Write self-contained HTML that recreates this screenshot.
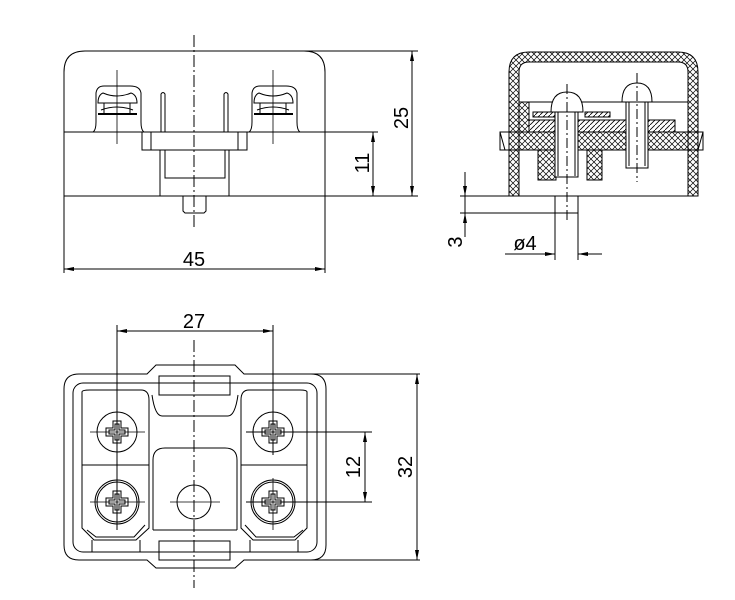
<!DOCTYPE html>
<html><head><style>html,body{margin:0;padding:0;background:#fff}svg{display:block}</style></head><body>
<svg width="735" height="600" viewBox="0 0 735 600" xmlns="http://www.w3.org/2000/svg" font-family="Liberation Sans, sans-serif" fill="none" stroke="#000" stroke-width="1">
<defs>
<pattern id="x" width="6" height="6" patternUnits="userSpaceOnUse"><path d="M0 0L6 6M6 0L0 6" stroke="#000" stroke-width="0.7"/></pattern>
<pattern id="h" width="5" height="5" patternUnits="userSpaceOnUse"><path d="M0 5L5 0" stroke="#000" stroke-width="0.8"/></pattern>
<marker id="a" viewBox="0 0 10 4" refX="10" refY="2" markerWidth="10" markerHeight="4" orient="auto-start-reverse" markerUnits="userSpaceOnUse"><path d="M0 0L10 2L0 4z" fill="#000" stroke="none"/></marker>
<g id="ph"><circle r="20" fill="#fff"/><path d="M-4-11H4V-4H11V4H4V11H-4V4H-11V-4H-4Z"/><path d="M-2-8H2V-2H8V2H2V8H-2V2H-8V-2H-2Z"/></g>
<g id="sc">
<path d="M93 132Q96 130 96 122V93Q97 86 104 86H130Q140 86 141 93V122Q141 130 144 132"/>
<path d="M98 103Q98 95 103 93Q117 99 131 93Q137 95 137 103Z"/>
<line x1="98" y1="114" x2="137" y2="114" stroke-width="2"/>
<path d="M101 110Q117 104 133 110" /><line x1="104" y1="103" x2="104" y2="114"/><line x1="130" y1="103" x2="130" y2="114"/>
</g>
</defs>
<!-- TOP VIEW -->
<path d="M64 196V72Q64 51 85 51H304Q325 51 325 72V196"/>
<line x1="64" y1="132" x2="378" y2="132"/><line x1="64" y1="196" x2="418" y2="196"/>
<line x1="304" y1="51" x2="418" y2="51"/>
<line x1="412" y1="51" x2="412" y2="196" marker-start="url(#a)" marker-end="url(#a)"/>
<line x1="373" y1="132" x2="373" y2="196" marker-start="url(#a)" marker-end="url(#a)"/>
<line x1="64" y1="196" x2="64" y2="273"/><line x1="325" y1="196" x2="325" y2="273"/>
<line x1="64" y1="269" x2="325" y2="269" marker-start="url(#a)" marker-end="url(#a)"/>
<text x="194" y="266" font-size="20" fill="#000" stroke="none" text-anchor="middle">45</text>
<text transform="translate(408 118) rotate(-90)" font-size="20" fill="#000" stroke="none" text-anchor="middle">25</text>
<text transform="translate(369 163) rotate(-90)" font-size="20" fill="#000" stroke="none" text-anchor="middle">11</text>
<rect x="142" y="132" width="105" height="18"/><line x1="151" y1="132" x2="151" y2="150"/><line x1="238" y1="132" x2="238" y2="150"/>
<rect x="165" y="150" width="60" height="28"/><line x1="160" y1="150" x2="160" y2="196"/><line x1="229" y1="150" x2="229" y2="196"/>
<path d="M183 196V211L185 213H204L206 211V196"/>
<path d="M161 132V94Q163 91 165 94V132M224 132V94Q226 91 228 94V132"/>
<use href="#sc"/>
<use href="#sc" transform="translate(156 0)"/>
<line x1="117" y1="70" x2="117" y2="144" stroke-width="0.8"/><line x1="273" y1="70" x2="273" y2="144" stroke-width="0.8"/>
<line x1="194" y1="35" x2="194" y2="230" stroke-dasharray="12 3 2 3"/>
<!-- SIDE VIEW -->
<rect x="500" y="132" width="203" height="18" fill="#fff"/>
<path d="M500 132L505 150M703 132L698 150" />
<path fill-rule="evenodd" fill="url(#x)" d="M509 196V72Q509 52 529 52H678Q698 52 698 72V196H688V72Q688 62 678 62H529Q519 62 519 72V196Z"/>
<rect x="519" y="132" width="169" height="18" fill="url(#x)"/>
<rect x="519" y="102" width="10" height="30" fill="url(#x)"/>
<line x1="519" y1="102" x2="688" y2="102"/>
<rect x="529" y="120" width="146" height="12" fill="url(#h)"/>
<rect x="533" y="112" width="30" height="5" fill="url(#h)"/><rect x="585" y="112" width="25" height="5" fill="url(#h)"/>
<rect x="538" y="150" width="18" height="30" fill="url(#x)"/><rect x="587" y="150" width="15" height="30" fill="url(#x)"/>
<path d="M551 112Q551 92 567 92Q583 92 583 112Z" fill="#fff"/>
<rect x="555" y="112" width="23" height="65" fill="#fff"/><line x1="558" y1="112" x2="558" y2="176"/><line x1="575" y1="112" x2="575" y2="176"/>
<path d="M622 102Q622 83 637 83Q652 83 652 102Z" fill="#fff"/>
<rect x="626" y="102" width="22" height="66" fill="#fff"/><line x1="629" y1="102" x2="629" y2="166"/><line x1="645" y1="102" x2="645" y2="166"/>
<line x1="567" y1="84" x2="567" y2="220" stroke-dasharray="10 3 2 3"/><line x1="637" y1="73" x2="637" y2="182" stroke-dasharray="10 3 2 3"/>
<line x1="460" y1="196" x2="698" y2="196"/>
<line x1="460" y1="213" x2="578" y2="213"/>
<rect x="555" y="196" width="23" height="17"/>
<line x1="555" y1="213" x2="555" y2="260"/><line x1="578" y1="213" x2="578" y2="260"/>
<line x1="465" y1="172" x2="465" y2="196" marker-end="url(#a)"/><line x1="465" y1="237" x2="465" y2="213" marker-end="url(#a)"/><line x1="465" y1="196" x2="465" y2="213"/>
<text transform="translate(462 242) rotate(-90)" font-size="20" fill="#000" stroke="none" text-anchor="middle">3</text>
<line x1="505" y1="254" x2="555" y2="254" marker-end="url(#a)"/><line x1="602" y1="254" x2="578" y2="254" marker-end="url(#a)"/>
<text x="525" y="250" font-size="20" fill="#000" stroke="none" text-anchor="middle">ø4</text>
<!-- BOTTOM VIEW -->
<path d="M79 374H147L156 365H235L244 374H311Q326 374 326 389V545Q326 560 311 560H244L235 568H156L147 560H79Q64 560 64 545V389Q64 374 79 374Z"/>
<rect x="73" y="383" width="244" height="169" rx="10"/>
<rect x="159" y="376" width="71" height="19"/><rect x="159" y="541" width="71" height="19"/>
<path d="M152 395Q155 416 162 416H228Q235 416 238 395"/>
<path d="M82 465V392Q82 390 90 390H141Q149 390 149 400V465"/><line x1="82" y1="465" x2="149" y2="465"/>
<path d="M82 465V528L94 540H136L149 528V465"/><path d="M87 530L96 537H134L145 525"/>
<path d="M241 465V400Q241 390 249 390H300Q307 390 307 392V465"/><line x1="241" y1="465" x2="307" y2="465"/>
<path d="M241 465V528L253 540H295L307 528V465"/><path d="M245 525L256 537H294L303 530"/>
<path d="M153 530V460Q153 448 165 448H225Q237 448 237 460V530"/><line x1="153" y1="530" x2="237" y2="530"/>
<line x1="92" y1="540" x2="92" y2="552"/><line x1="140" y1="540" x2="140" y2="552"/><line x1="250" y1="540" x2="250" y2="552"/><line x1="298" y1="540" x2="298" y2="552"/>
<use href="#ph" transform="translate(117 432)"/><use href="#ph" transform="translate(273 432)"/>
<circle cx="117" cy="502" r="22"/><use href="#ph" transform="translate(117 502)"/>
<circle cx="273" cy="502" r="22"/><use href="#ph" transform="translate(273 502)"/>
<circle cx="194" cy="502" r="17"/>
<line x1="90" y1="432" x2="145" y2="432" stroke-width="0.8"/><line x1="90" y1="502" x2="145" y2="502" stroke-width="0.8"/>
<line x1="170" y1="502" x2="220" y2="502" stroke-width="0.8"/>
<line x1="246" y1="432" x2="372" y2="432"/><line x1="246" y1="502" x2="372" y2="502"/>
<line x1="117" y1="325" x2="117" y2="530"/><line x1="273" y1="325" x2="273" y2="455"/><line x1="273" y1="478" x2="273" y2="530" stroke-width="0.8"/>
<line x1="117" y1="331" x2="273" y2="331" marker-start="url(#a)" marker-end="url(#a)"/>
<text x="194" y="328" font-size="20" fill="#000" stroke="none" text-anchor="middle">27</text>
<line x1="365" y1="432" x2="365" y2="502" marker-start="url(#a)" marker-end="url(#a)"/>
<text transform="translate(360 467) rotate(-90)" font-size="20" fill="#000" stroke="none" text-anchor="middle">12</text>
<line x1="311" y1="374" x2="420" y2="374"/><line x1="311" y1="560" x2="420" y2="560"/>
<line x1="417" y1="374" x2="417" y2="560" marker-start="url(#a)" marker-end="url(#a)"/>
<text transform="translate(412 467) rotate(-90)" font-size="20" fill="#000" stroke="none" text-anchor="middle">32</text>
<line x1="194" y1="340" x2="194" y2="588" stroke-dasharray="12 3 2 3"/>
</svg>
</body></html>
